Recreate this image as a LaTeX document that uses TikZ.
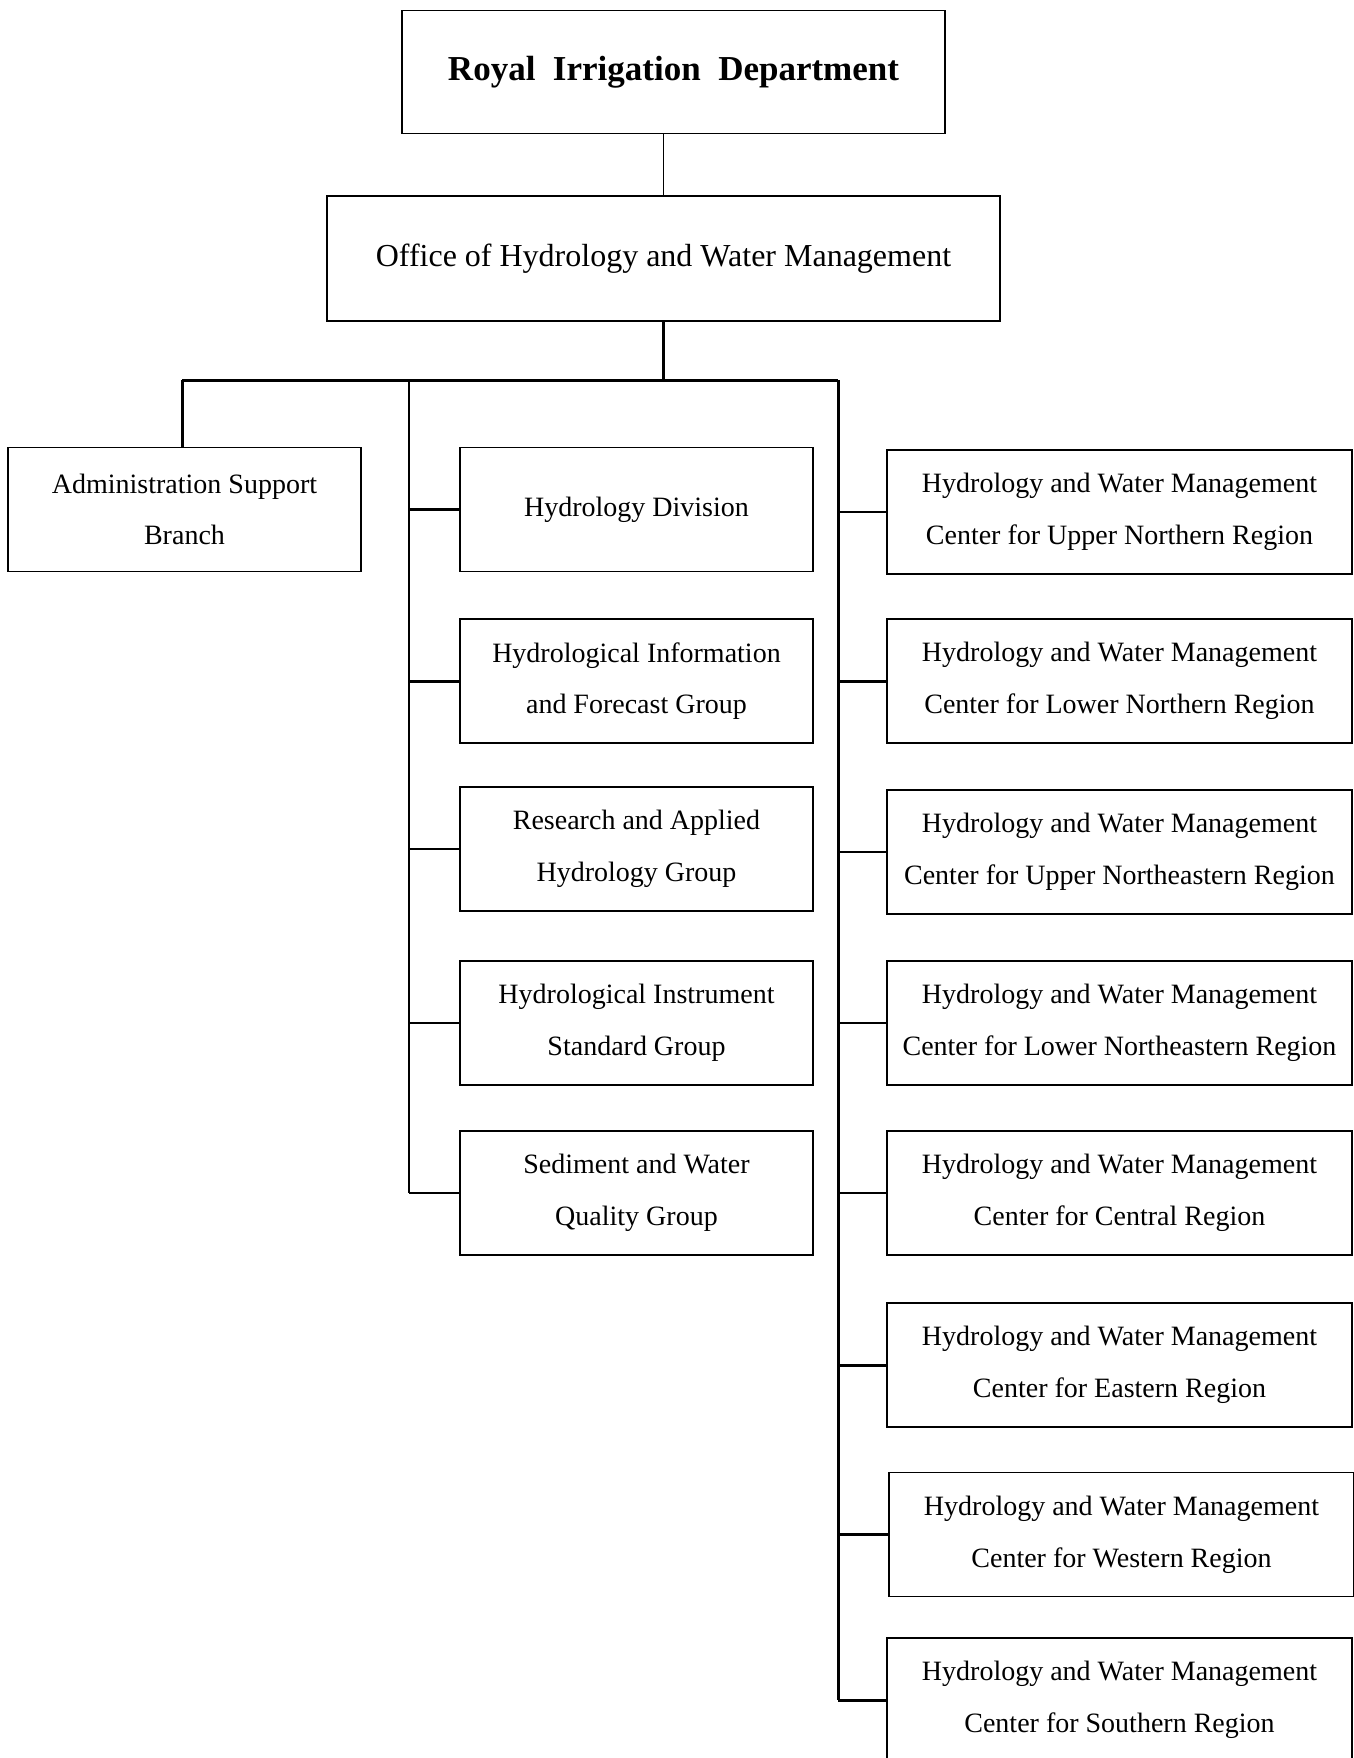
\documentclass[tikz,border=0pt]{standalone}
\usepackage{fontspec}
\setmainfont{Liberation Serif}
\usetikzlibrary{positioning, calc}

\begin{document}
\begin{tikzpicture}[
  x=0.5pt, y=-0.5pt,
  box/.style={
    draw, line width=0.75pt, minimum height=62pt, inner sep=2pt,
    align=center, font=\fontsize{14}{25.8}\selectfont
  },
  unitbox/.style={box, minimum width=176.5pt},
  centerbox/.style={box, minimum width=232.5pt},
  thinline/.style={line width=0.6pt},
  thickline/.style={line width=1.5pt}
]
  \useasboundingbox (0,0) rectangle (1354,1758);

  % Top of the chart
  \node[box, minimum width=271.5pt, minimum height=61.5pt,
        font=\fontsize{17.5}{21}\selectfont\bfseries] (rid)
    at (673.5,72) {Royal\ \ Irrigation\ \ Department};
  \node[box, minimum width=336.5pt, minimum height=62.5pt,
        font=\fontsize{16}{20}\selectfont] (office)
    at (663.5,258.5) {Office of Hydrology and Water Management};

  % Left branch
  \node[unitbox] (admin) at (184.5,509.5) {Administration Support\\Branch};

  % Middle column -- groups
  \node[unitbox] (hyd)  at (636.5,509.5) {Hydrology Division};
  \node[unitbox] (info) at (636.5,681)   {Hydrological Information\\and Forecast Group};
  \node[unitbox] (res)  at (636.5,849)   {Research and Applied\\Hydrology Group};
  \node[unitbox] (inst) at (636.5,1023)  {Hydrological Instrument\\Standard Group};
  \node[unitbox] (sed)  at (636.5,1193)  {Sediment and Water\\Quality Group};

  % Right column -- regional centers
  \node[centerbox] (upn)  at (1119.5,512)  {Hydrology and Water Management\\Center for Upper Northern Region};
  \node[centerbox] (lown) at (1119.5,681)  {Hydrology and Water Management\\Center for Lower Northern Region};
  \node[centerbox] (upne) at (1119.5,852)  {Hydrology and Water Management\\Center for Upper Northeastern Region};
  \node[centerbox] (lowne) at (1119.5,1023) {Hydrology and Water Management\\Center for Lower Northeastern Region};
  \node[centerbox] (cent) at (1119.5,1193) {Hydrology and Water Management\\Center for Central Region};
  \node[centerbox] (east) at (1119.5,1365) {Hydrology and Water Management\\Center for Eastern Region};
  \node[centerbox] (west) at (1121.5,1534.5) {Hydrology and Water Management\\Center for Western Region};
  \node[centerbox] (south) at (1119.5,1700) {Hydrology and Water Management\\Center for Southern Region};

  % Bar points
  \coordinate (lbar) at (182,380);
  \coordinate (mbar) at (409,380);
  \coordinate (rbar) at (838,380);

  % Connectors
  \draw[thinline]  (office.north) -- (office.north |- rid.south);
  \draw[thickline] (office.south) -- (office.south |- lbar);
  \draw[thickline] (lbar) -- (rbar);
  \draw[thickline] (lbar) -- (lbar |- admin.north);
  \draw[thinline]  (mbar) -- (mbar |- sed.west);
  \draw[thickline] (rbar) -- (rbar |- south.west);

  \draw[thickline] (mbar |- hyd.west)  -- (hyd.west);
  \draw[thickline] (mbar |- info.west) -- (info.west);
  \draw[thinline]  (mbar |- res.west)  -- (res.west);
  \draw[thinline]  (mbar |- inst.west) -- (inst.west);
  \draw[thinline]  (mbar |- sed.west)  -- (sed.west);

  \draw[thinline]  (rbar |- upn.west)   -- (upn.west);
  \draw[thickline] (rbar |- lown.west)  -- (lown.west);
  \draw[thinline]  (rbar |- upne.west)  -- (upne.west);
  \draw[thinline]  (rbar |- lowne.west) -- (lowne.west);
  \draw[thinline]  (rbar |- cent.west)  -- (cent.west);
  \draw[thickline] (rbar |- east.west)  -- (east.west);
  \draw[thickline] (rbar |- west.west)  -- (west.west);
  \draw[thickline] (rbar |- south.west) -- (south.west);
\end{tikzpicture}
\end{document}
